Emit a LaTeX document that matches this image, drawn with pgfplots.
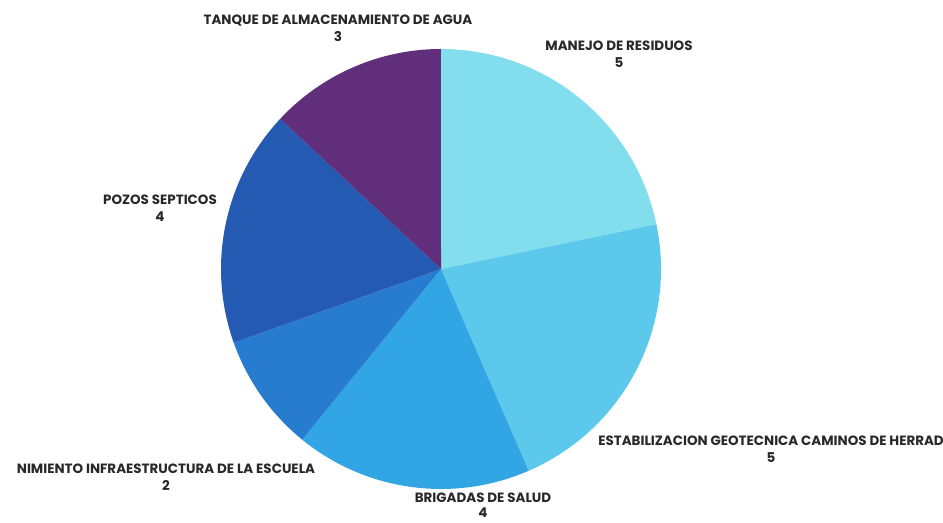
\documentclass[border=0pt]{standalone}
\usepackage{pgfplots}
\pgfplotsset{compat=1.18}
\usepackage{fontspec}
\setmainfont{Poppins}
\definecolor{cManejo}{RGB}{130,222,236}
\definecolor{cEstab}{RGB}{92,200,236}
\definecolor{cBrig}{RGB}{50,165,228}
\definecolor{cInfra}{RGB}{40,124,208}
\definecolor{cPozos}{RGB}{36,90,178}
\definecolor{cTanque}{RGB}{96,46,122}
\definecolor{txt}{RGB}{40,40,40}
\begin{document}
\begin{tikzpicture}
\begin{axis}[name=ax, width=943bp, height=523bp, scale only axis,
  xmin=0, xmax=943, ymin=0, ymax=523, hide axis, clip=true]
\def\cx{441}\def\cy{254}
\gdef\startang{90}
\foreach \v/\col in {5/cManejo,5/cEstab,4/cBrig,2/cInfra,4/cPozos,3/cTanque} {
  \pgfmathsetmacro{\endang}{\startang - \v/23*360}
  \edef\temp{\noexpand\fill[\col] (axis cs:\cx,\cy) -- ([shift={(\startang:220bp)}]axis cs:\cx,\cy) arc[start angle=\startang, end angle=\endang, radius=220bp] -- cycle;}
  \temp
  \global\let\startang\endang
}
\tikzset{lbl/.style={align=center, text=txt, font=\fontsize{13.5}{17.5}\selectfont\bfseries, inner sep=0pt}}
\node[lbl] at (axis cs:338,495) {TANQUE DE ALMACENAMIENTO DE AGUA\\3};
\node[lbl] at (axis cs:619,469) {MANEJO DE RESIDUOS\\5};
\node[lbl] at (axis cs:160,315) {POZOS SEPTICOS\\4};
\node[lbl] at (axis cs:771,74) {ESTABILIZACION GEOTECNICA CAMINOS DE HERRAD\\5};
\node[lbl] at (axis cs:166,46) {NIMIENTO INFRAESTRUCTURA DE LA ESCUELA\\2};
\node[lbl, font=\fontsize{13.5}{14.5}\selectfont\bfseries] at (axis cs:483,18) {BRIGADAS DE SALUD\\4};
\end{axis}
\pgfresetboundingbox
\useasboundingbox (ax.south west) rectangle (ax.north east);
\end{tikzpicture}
\end{document}
